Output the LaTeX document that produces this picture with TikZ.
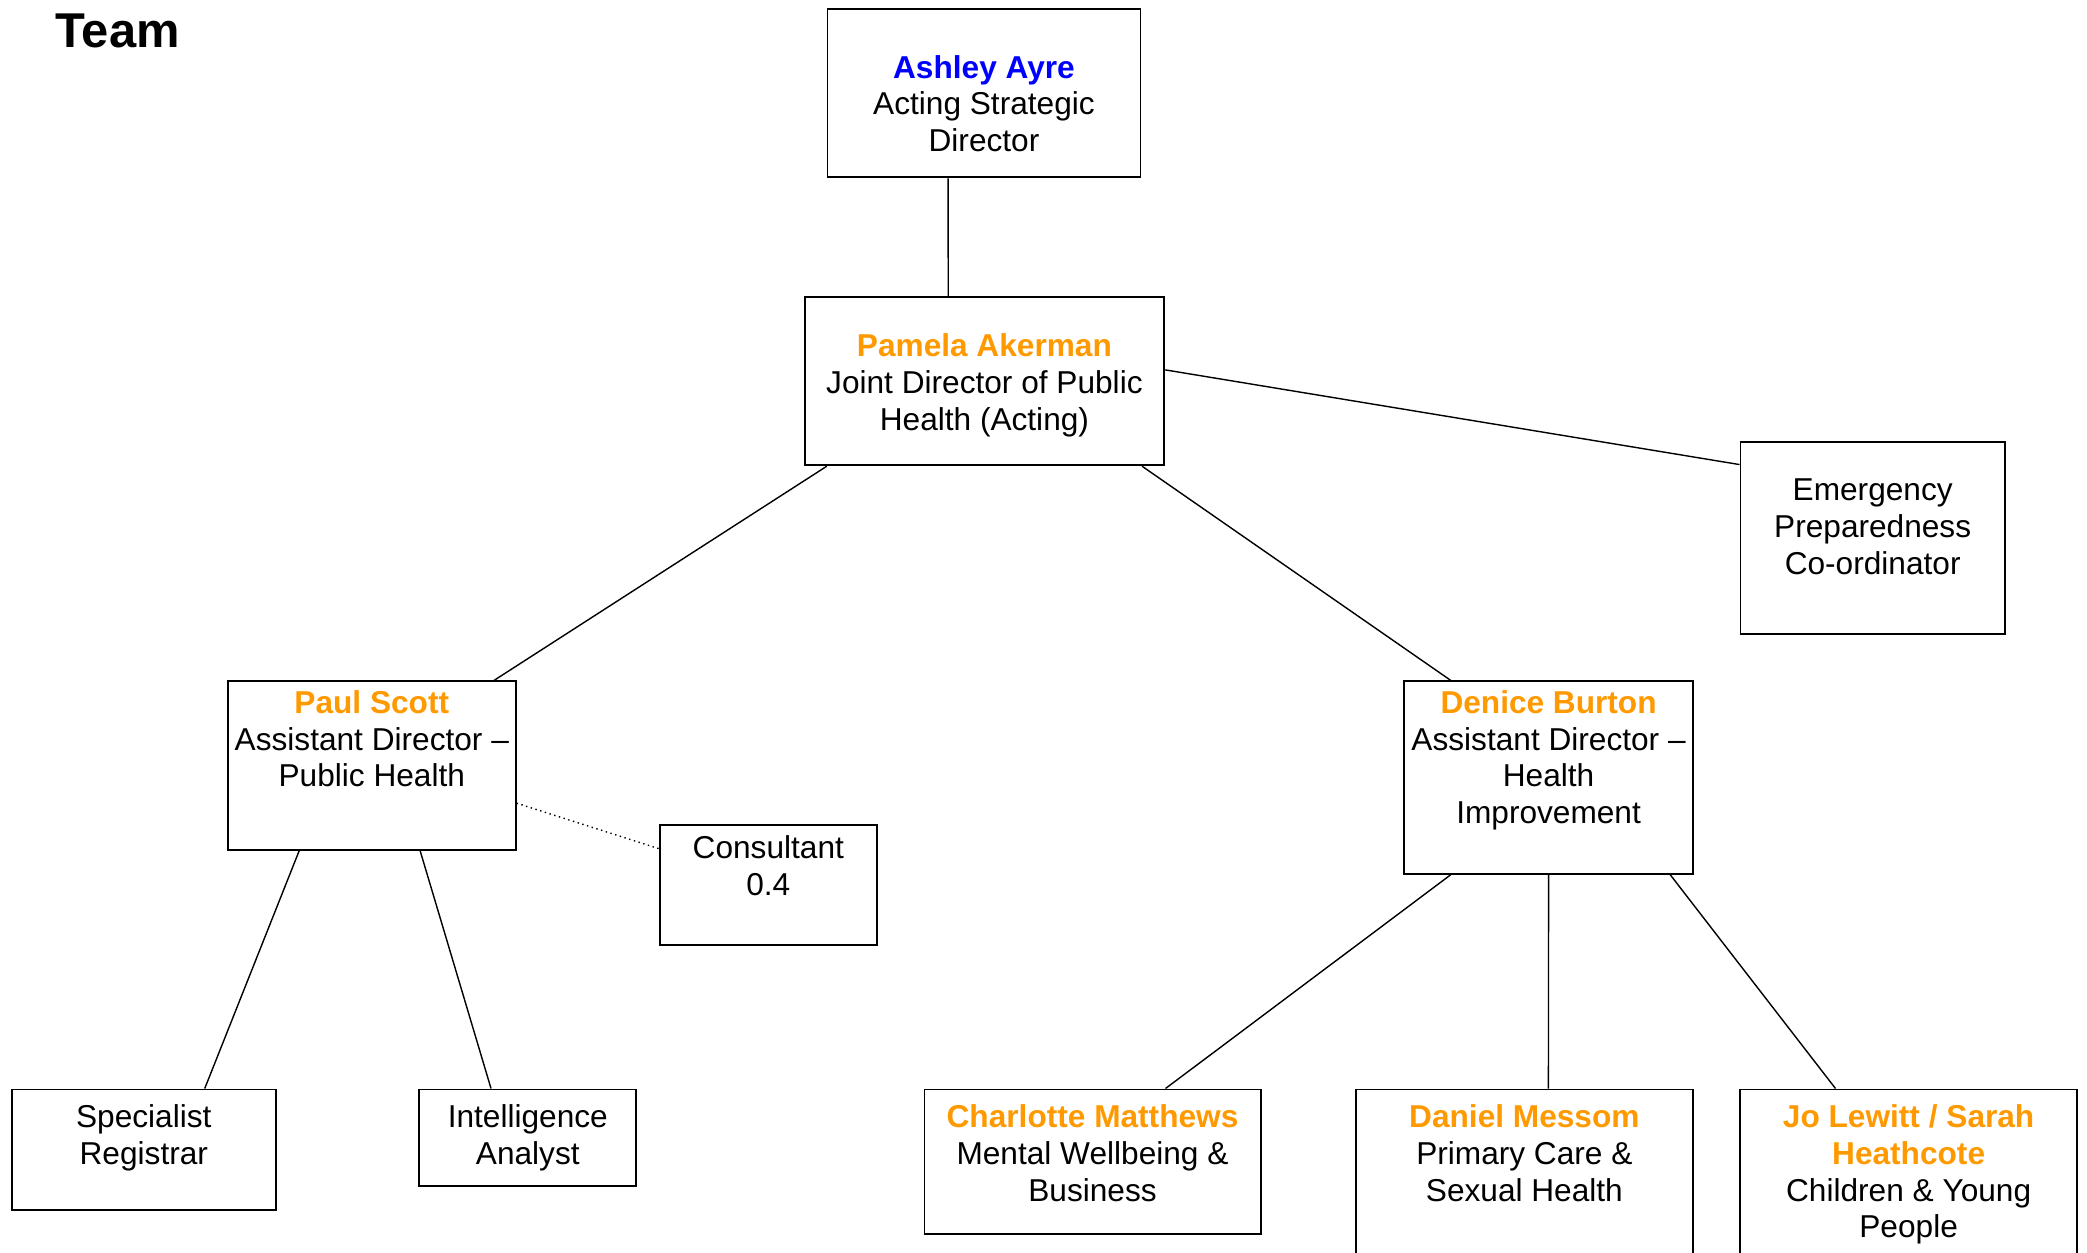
\documentclass[tikz,border=0pt]{standalone}
\usepackage{fontspec}
\setmainfont{Liberation Sans}
\usetikzlibrary{positioning,calc}

\definecolor{chartorange}{RGB}{255,153,0}
\definecolor{chartblue}{RGB}{0,0,255}
\newcommand{\pname}[2][chartorange]{{\color{#1}\bfseries #2}\\}

\begin{document}
\begin{tikzpicture}[
		box/.style={draw, line width=0.55pt, inner sep=0pt, anchor=north west},
		txt/.style={align=center, inner sep=0pt, font=\fontsize{9}{10.44}\selectfont},
		link/.style={line width=0.4pt}
	]
	\useasboundingbox (0,0) rectangle (20.87,-12.53);
	\clip (0,0) rectangle (20.87,-12.53);

	\node[anchor=base west, inner sep=0pt, font=\fontsize{13.9}{16}\selectfont\bfseries] (title) at (0.55,-0.477) {Team};

	% boxes
	\node[box, minimum width=3.13cm, minimum height=1.68cm] (ayre) at (8.265,-0.085) {};
	\node[box, minimum width=3.597cm, minimum height=1.683cm] (akerman) at (8.036,-2.96) {};
	\node[box, minimum width=2.644cm, minimum height=1.92cm] (emerg) at (17.395,-4.407) {};
	\node[box, minimum width=2.877cm, minimum height=1.686cm] (scott) at (2.27,-6.804) {};
	\node[box, minimum width=2.167cm, minimum height=1.2cm] (consult) at (6.59,-8.243) {};
	\node[box, minimum width=2.884cm, minimum height=1.924cm] (burton) at (14.034,-6.804) {};
	\node[box, minimum width=2.641cm, minimum height=1.204cm] (registrar) at (0.108,-10.885) {};
	\node[box, minimum width=2.168cm, minimum height=0.963cm] (analyst) at (4.184,-10.885) {};
	\node[box, minimum width=3.361cm, minimum height=1.446cm] (matthews) at (9.235,-10.885) {};
	\node[box, minimum width=3.368cm, minimum height=2.3cm] (messom) at (13.55,-10.885) {};
	\node[box, minimum width=3.367cm, minimum height=2.3cm] (lewitt) at (17.393,-10.885) {};

	% texts
	\node[txt, below=0.46cm of ayre.north] (ayre-t) {\pname[chartblue]{Ashley Ayre}Acting Strategic\\Director};
	\node[txt, below=0.37cm of akerman.north] (akerman-t) {\pname{Pamela Akerman}Joint Director of Public\\Health (Acting)};
	\node[txt, below=0.375cm of emerg.north] (emerg-t) {Emergency\\Preparedness\\Co-ordinator};
	\node[txt, below=0.095cm of scott.north] (scott-t) {\pname{Paul Scott}Assistant Director --\\Public Health};
	\node[txt, below=0.105cm of consult.north] (consult-t) {Consultant\\0.4};
	\node[txt, below=0.095cm of burton.north] (burton-t) {\pname{Denice Burton}Assistant Director --\\Health\\Improvement};
	\node[txt, below=0.155cm of registrar.north] (registrar-t) {Specialist\\Registrar};
	\node[txt, below=0.155cm of analyst.north] (analyst-t) {Intelligence\\Analyst};
	\node[txt, below=0.155cm of matthews.north] (matthews-t) {\pname{Charlotte Matthews}Mental Wellbeing \&\\Business};
	\node[txt, below=0.155cm of messom.north] (messom-t) {\pname{Daniel Messom}Primary Care \&\\Sexual Health};
	\node[txt, below=0.155cm of lewitt.north] (lewitt-t) {\pname{Jo Lewitt / Sarah}\pname{Heathcote}Children \& Young\\People};

	% connectors
	\draw[link] ($(ayre.south west)!.386!(ayre.south east)$) -- ($(akerman.north west)!.40!(akerman.north east)$);
	\draw[link] ($(akerman.north east)!.434!(akerman.south east)$) -- ($(emerg.north west)!.123!(emerg.south west)$);
	\draw[link] ($(akerman.south west)!.064!(akerman.south east)$) -- ($(scott.north west)!.922!(scott.north east)$);
	\draw[link] ($(akerman.south west)!.936!(akerman.south east)$) -- ($(burton.north west)!.163!(burton.north east)$);
	\draw[link, densely dotted] ($(scott.north east)!.72!(scott.south east)$) -- ($(consult.north west)!.2!(consult.south west)$);
	\draw[link] ($(scott.south west)!.249!(scott.south east)$) -- ($(registrar.north west)!.729!(registrar.north east)$);
	\draw[link] ($(scott.south west)!.667!(scott.south east)$) -- ($(analyst.north west)!.332!(analyst.north east)$);
	\draw[link] ($(burton.south west)!.163!(burton.south east)$) -- ($(matthews.north west)!.716!(matthews.north east)$);
	\draw[link] (burton.south) -- ($(messom.north west)!.571!(messom.north east)$);
	\draw[link] ($(burton.south west)!.919!(burton.south east)$) -- ($(lewitt.north west)!.284!(lewitt.north east)$);
\end{tikzpicture}
\end{document}
